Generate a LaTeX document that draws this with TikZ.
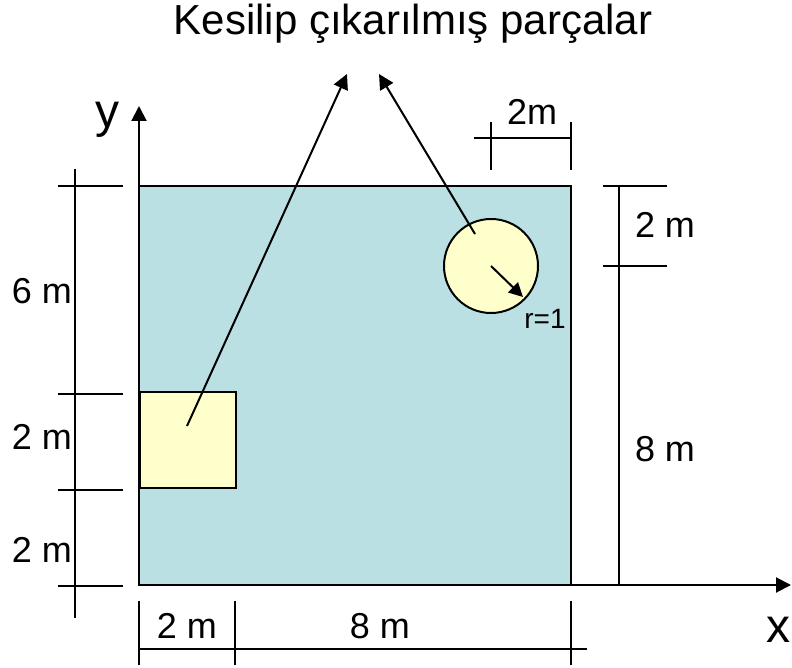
\documentclass[tikz,border=0pt]{standalone}
\usepackage{fontspec}
\setmainfont{Liberation Sans}
\usetikzlibrary{arrows.meta}
\definecolor{plate}{RGB}{187,224,227}
\definecolor{cutout}{RGB}{255,255,204}
\begin{document}
\begin{tikzpicture}[x=1pt,y=-1pt,
  ln/.style={line width=2pt,draw=black},
  arr/.style={line width=2pt,-{Triangle[length=15pt,width=15pt]}},
  lbl/.style={inner sep=0pt,font=\fontsize{36}{40}\selectfont},
  ttl/.style={inner sep=0pt,font=\fontsize{42}{46}\selectfont},
  big/.style={inner sep=0pt,font=\fontsize{48}{52}\selectfont},
  small/.style={inner sep=0pt,font=\fontsize{28}{32}\selectfont}]
\useasboundingbox (0,0) rectangle (792,668);
% plate and cut-outs
\draw[ln,fill=plate] (139,186) rectangle (571,585);
\node[ln,fill=cutout,minimum size=96pt,inner sep=0pt,anchor=north west] (sq) at (139,391) {};
\node[ln,circle,fill=cutout,minimum size=94pt,inner sep=0pt] (hole) at (491,266) {};
% axes
\coordinate (o) at (139,585);
\coordinate (xe) at (791,585);
\coordinate (ye) at (139,106);
\draw[arr] (o) -- (xe);
\draw[arr] (o) -- (ye);
\node[big,anchor=base] (xl) at (778,642) {x};
\node[big,anchor=base] (yl) at (107,128) {y};
% left dimension
\draw[ln] (75,169) -- (75,618);
\foreach \yy in {186,394,490,586} \draw[ln] (58,\yy) -- (123,\yy);
\node[lbl,anchor=base east] (l6) at (72,303) {6 m};
\node[lbl,anchor=base east] (l2a) at (72,449) {2 m};
\node[lbl,anchor=base east] (l2b) at (72,562) {2 m};
% bottom dimension
\draw[ln] (139,649) -- (587,649);
\foreach \xx in {139,235,571} \draw[ln] (\xx,601) -- (\xx,665);
\node[lbl,anchor=base] (b2) at (187,638) {2 m};
\node[lbl,anchor=base] (b8) at (380,638) {8 m};
% right dimension
\draw[ln] (619,186) -- (619,585);
\draw[ln] (603,186) -- (667,186);
\draw[ln] (603,266) -- (667,266);
\node[lbl,anchor=base] (r2) at (665,238) {2 m};
\node[lbl,anchor=base] (r8) at (665,461) {8 m};
% top dimension
\draw[ln] (474,138) -- (571,138);
\draw[ln] (491,122) -- (491,170);
\draw[ln] (571,122) -- (571,170);
\node[lbl,anchor=base] (t2) at (532,125) {2m};
% radius
\coordinate (rtip) at (523,297);
\draw[line width=2pt,-{Triangle[length=14pt,width=14pt]}] (hole.center) -- (rtip);
\node[small,anchor=base] (rl) at (545,328) {r=1};
% title and leaders
\node[ttl,anchor=base] (title) at (413,35) {Kesilip çıkarılmış parçalar};
\coordinate (sqp) at (187,426);
\coordinate (hp) at (475,234);
\coordinate (ta) at (347,74);
\coordinate (tb) at (379,74);
\draw[arr] (sqp) -- (ta);
\draw[arr] (hp) -- (tb);
\end{tikzpicture}
\end{document}
